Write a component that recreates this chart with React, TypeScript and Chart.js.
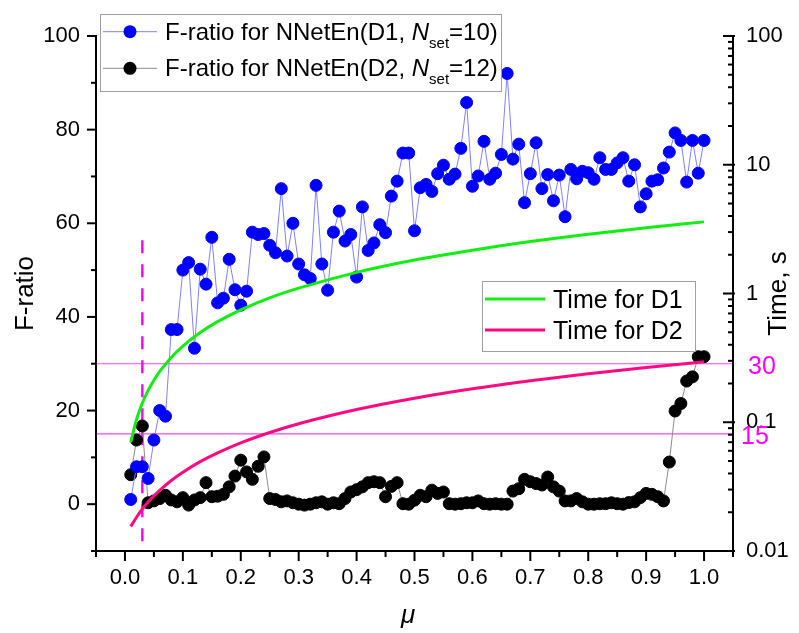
import React, { useEffect, useRef } from 'react';
import { Chart, registerables } from 'chart.js';

Chart.register(...registerables);

const FONT = '"Liberation Sans", Arial, Helvetica, sans-serif';

// μ grid of the two F-ratio series
const MU = [
  0.01, 0.02, 0.03, 0.04, 0.05, 0.06, 0.07, 0.08, 0.09, 0.10,
  0.11, 0.12, 0.13, 0.14, 0.15, 0.16, 0.17, 0.18, 0.19, 0.20,
  0.21, 0.22, 0.23, 0.24, 0.25, 0.26, 0.27, 0.28, 0.29, 0.30,
  0.31, 0.32, 0.33, 0.34, 0.35, 0.36, 0.37, 0.38, 0.39, 0.40,
  0.41, 0.42, 0.43, 0.44, 0.45, 0.46, 0.47, 0.48, 0.49, 0.50,
  0.51, 0.52, 0.53, 0.54, 0.55, 0.56, 0.57, 0.58, 0.59, 0.60,
  0.61, 0.62, 0.63, 0.64, 0.65, 0.66, 0.67, 0.68, 0.69, 0.70,
  0.71, 0.72, 0.73, 0.74, 0.75, 0.76, 0.77, 0.78, 0.79, 0.80,
  0.81, 0.82, 0.83, 0.84, 0.85, 0.86, 0.87, 0.88, 0.89, 0.90,
  0.91, 0.92, 0.93, 0.94, 0.95, 0.96, 0.97, 0.98, 0.99, 1.00,
];

// F-ratio for NNetEn(D1, Nset=10)
const F_D1 = [
  1, 8, 8, 5.5, 13.7, 20, 18.8, 37.3, 37.3, 50,
  51.6, 33.3, 50.2, 47, 57, 43, 44, 52.3, 45.8, 42.5,
  45.5, 58.1, 57.6, 57.8, 55.3, 53.7, 67.4, 53, 60, 51.3,
  49, 48.2, 68.1, 51.3, 45.7, 58.1, 62.6, 56.2, 57.6, 48.5,
  63.5, 54.2, 55.8, 59.7, 58, 65.8, 69, 75, 75, 58.4,
  67.6, 68.3, 66.8, 70.6, 72.4, 69.4, 70.5, 76, 85.8, 67.9,
  70.1, 77.5, 69.4, 70.7, 74.7, 92, 73.7, 76.9, 64.4, 70.6,
  77.2, 67.4, 70.4, 64.8, 70.3, 61.4, 71.5, 69.5, 71.1, 70.8,
  69.4, 74, 71.5, 71.5, 72.9, 74, 69, 72.5, 63.5, 66.3,
  69, 69.3, 71.8, 75.2, 79.3, 77.7, 68.8, 77.7, 70.7, 77.7,
];

// F-ratio for NNetEn(D2, Nset=12)
const F_D2 = [
  6.3, 13.7, 16.7, 0.3, 0.7, 1.2, 1.9, 0.9, 0.5, 1.4,
  -0.2, 0.9, 1.4, 4.6, 1.6, 1.7, 2.1, 3.7, 6, 9.4,
  6.9, 5.3, 8.1, 10.1, 1.2, 1, 0.5, 0.7, 0.3, 0,
  -0.2, 0, 0.3, 0.5, 0, 0.3, 0.1, 1.2, 2.6, 3.1,
  3.7, 4.6, 4.8, 4.6, 1.6, 3.8, 4.6, 0.1, 0, 0.85,
  1.9, 1.6, 3, 2.3, 2.6, 0.1, 0, 0.1, 0.3, 0.3,
  0.7, 0.1, 0, 0.1, 0, 0, 2.8, 3.3, 5.3, 4.8,
  4.4, 4.1, 5.8, 3.7, 2.8, 0.7, 0.7, 1.2, 0.5, 0,
  0, 0.1, 0.1, 0.3, 0.1, 0, 0.35, 0.5, 1.4, 2.3,
  2.1, 1.6, 0.7, 9, 19.9, 21.5, 26.3, 27.2, 31.5, 31.5,
];

// Time curves (right log axis, seconds)
const T_MU = [0.01, 0.02, 0.03, 0.04, 0.05, 0.06, 0.08, 0.10, 0.13, 0.16, 0.20, 0.25, 0.30, 0.40, 0.50, 0.60, 0.70, 0.80, 0.90, 1.00];
const T_D1 = [0.070, 0.105, 0.141, 0.177, 0.212, 0.248, 0.319, 0.391, 0.498, 0.605, 0.747, 0.926, 1.10, 1.46, 1.82, 2.17, 2.53, 2.89, 3.24, 3.60];
const T_D2 = [0.0155, 0.0183, 0.0212, 0.024, 0.0268, 0.0296, 0.0353, 0.0409, 0.0494, 0.0578, 0.0691, 0.0832, 0.0973, 0.1255, 0.1537, 0.1819, 0.2101, 0.2383, 0.2665, 0.295];

// Axis ticks
const X_MAJOR = [0, 0.1, 0.2, 0.3, 0.4, 0.5, 0.6, 0.7, 0.8, 0.9, 1.0];
const X_MINOR = [-0.05, 0.05, 0.15, 0.25, 0.35, 0.45, 0.55, 0.65, 0.75, 0.85, 0.95, 1.05];
const F_MAJOR = [0, 20, 40, 60, 80, 100];
const F_MINOR = [-10, 10, 30, 50, 70, 90];
const T_MAJOR = [0.01, 0.1, 1, 10, 100];
const T_MINOR = [
  0.02, 0.03, 0.04, 0.05, 0.06, 0.07, 0.08, 0.09,
  0.2, 0.3, 0.4, 0.5, 0.6, 0.7, 0.8, 0.9,
  2, 3, 4, 5, 6, 7, 8, 9,
  20, 30, 40, 50, 60, 70, 80, 90,
];

// Reference marks
const REF_F = [30, 15];
const REF_LABELS = ['30', '15'];
const DASH_MU = 0.03;
const DASH_F_TOP = 56.4;

// Legends
const LEGEND_F = [
  { pre: 'F-ratio for NNetEn(D1, ', post: '=10)' },
  { pre: 'F-ratio for NNetEn(D2, ', post: '=12)' },
];
const LEGEND_T = ['Time for D1', 'Time for D2'];

const BLUE = '#0000ff';
const BLUE_LINE = '#8080ff';
const BLACK = '#000000';
const GREY_LINE = '#8c8c8c';
const GREEN = '#11ee11';
const PINK = '#ff0a80';
const MAGENTA = '#ff00ff';

const toPts = (xs: number[], ys: number[]) => xs.map((x, i) => ({ x, y: ys[i] }));

const overlayPlugin = {
  id: 'overlay',
  beforeDatasetsDraw(chart: any) {
    const { ctx, chartArea } = chart;
    const x = chart.scales.x;
    const y = chart.scales.y;
    ctx.save();
    ctx.strokeStyle = '#ff40ff';
    ctx.lineWidth = 1.2;
    REF_F.forEach((v) => {
      const py = y.getPixelForValue(v);
      ctx.beginPath();
      ctx.moveTo(chartArea.left, py);
      ctx.lineTo(chartArea.right, py);
      ctx.stroke();
    });
    ctx.strokeStyle = MAGENTA;
    ctx.lineWidth = 2.4;
    ctx.setLineDash([13, 11]);
    const px = x.getPixelForValue(DASH_MU);
    ctx.beginPath();
    ctx.moveTo(px, y.getPixelForValue(DASH_F_TOP));
    ctx.lineTo(px, chartArea.bottom);
    ctx.stroke();
    ctx.restore();
  },
  afterDraw(chart: any) {
    const { ctx, chartArea } = chart;
    const x = chart.scales.x;
    const y = chart.scales.y;
    const y2 = chart.scales.y2;
    const { left, right, top, bottom } = chartArea;
    ctx.save();
    ctx.strokeStyle = '#000';
    ctx.lineWidth = 2;
    ctx.lineCap = 'butt';
    const line = (x1: number, y1: number, x2: number, y2_: number) => {
      ctx.beginPath();
      ctx.moveTo(x1, y1);
      ctx.lineTo(x2, y2_);
      ctx.stroke();
    };
    // axis lines
    line(left, top - 1, left, bottom + 1);
    line(left - 1, bottom, right + 1, bottom);
    line(right, top - 1, right, bottom + 1);
    // left ticks (outward)
    F_MAJOR.forEach((v) => { const p = y.getPixelForValue(v); line(left - 9, p, left, p); });
    F_MINOR.forEach((v) => { const p = y.getPixelForValue(v); line(left - 5, p, left, p); });
    // bottom ticks (outward)
    X_MAJOR.forEach((v) => { const p = x.getPixelForValue(v); line(p, bottom, p, bottom + 10); });
    X_MINOR.forEach((v) => { const p = x.getPixelForValue(v); line(p, bottom, p, bottom + 6); });
    // right ticks (inward)
    T_MAJOR.forEach((v) => { const p = y2.getPixelForValue(v); line(right - 10, p, right + 2, p); });
    T_MINOR.forEach((v) => { const p = y2.getPixelForValue(v); line(right - 5, p, right, p); });

    // axis titles
    ctx.fillStyle = '#000';
    ctx.textAlign = 'center';
    ctx.textBaseline = 'middle';
    ctx.font = `26px ${FONT}`;
    ctx.save();
    ctx.translate(26, (top + bottom) / 2);
    ctx.rotate(-Math.PI / 2);
    ctx.fillText('F-ratio', 0, 0);
    ctx.restore();
    ctx.save();
    ctx.translate(779, (top + bottom) / 2);
    ctx.rotate(-Math.PI / 2);
    ctx.fillText('Time, s', 0, 0);
    ctx.restore();
    ctx.font = `italic 26px ${FONT}`;
    ctx.fillText('\u03bc', 408, 616);

    // magenta reference labels
    ctx.fillStyle = MAGENTA;
    ctx.textAlign = 'left';
    ctx.font = `25px ${FONT}`;
    ctx.fillText(REF_LABELS[0], 748, y.getPixelForValue(REF_F[0]) + 3);
    ctx.fillText(REF_LABELS[1], 741, y.getPixelForValue(REF_F[1]) + 3);

    // legend 1
    ctx.fillStyle = '#fff';
    ctx.fillRect(101, 15, 401, 76);
    ctx.strokeStyle = '#a0a0a0';
    ctx.lineWidth = 1;
    ctx.strokeRect(100.5, 14.5, 401, 77);
    const rows1 = [31.7, 68.3];
    const markerCols = [BLUE, BLACK];
    const lineCols = [BLUE_LINE, GREY_LINE];
    rows1.forEach((ry, i) => {
      ctx.strokeStyle = lineCols[i];
      ctx.lineWidth = 1;
      line(103, ry, 157, ry);
      ctx.fillStyle = markerCols[i];
      ctx.beginPath();
      ctx.arc(130, ry, 6.5, 0, Math.PI * 2);
      ctx.fill();
      ctx.fillStyle = '#000';
      ctx.textAlign = 'left';
      ctx.textBaseline = 'alphabetic';
      const base = ry + 8;
      let tx = 165;
      ctx.font = `24px ${FONT}`;
      ctx.fillText(LEGEND_F[i].pre, tx, base);
      tx += ctx.measureText(LEGEND_F[i].pre).width;
      ctx.font = `italic 24px ${FONT}`;
      ctx.fillText('N', tx, base);
      tx += ctx.measureText('N').width;
      ctx.font = `15px ${FONT}`;
      ctx.fillText('set', tx, base + 8);
      tx += ctx.measureText('set').width;
      ctx.font = `24px ${FONT}`;
      ctx.fillText(LEGEND_F[i].post, tx, base);
    });

    // legend 2
    ctx.fillStyle = '#fff';
    ctx.fillRect(483, 282, 212, 69);
    ctx.strokeStyle = '#a0a0a0';
    ctx.lineWidth = 1;
    ctx.strokeRect(482.5, 281.5, 213, 70);
    const rows2 = [299, 330];
    const cols2 = [GREEN, PINK];
    rows2.forEach((ry, i) => {
      ctx.strokeStyle = cols2[i];
      ctx.lineWidth = 3;
      line(485, ry, 545, ry);
      ctx.fillStyle = '#000';
      ctx.textAlign = 'left';
      ctx.textBaseline = 'alphabetic';
      ctx.font = `25px ${FONT}`;
      ctx.fillText(LEGEND_T[i], 553, ry + 9);
    });
    ctx.restore();
  },
};

export default function App() {
  const canvasRef = useRef<HTMLCanvasElement | null>(null);

  useEffect(() => {
    const canvas = canvasRef.current;
    if (!canvas) return;
    const tickFont = { family: FONT, size: 22 };
    const chart = new Chart(canvas, {
      type: 'line',
      data: {
        datasets: [
          {
            label: 'Time for D1',
            data: toPts(T_MU, T_D1),
            yAxisID: 'y2',
            borderColor: GREEN,
            borderWidth: 3,
            pointRadius: 0,
            cubicInterpolationMode: 'monotone',
            order: 0,
          },
          {
            label: 'Time for D2',
            data: toPts(T_MU, T_D2),
            yAxisID: 'y2',
            borderColor: PINK,
            borderWidth: 3,
            pointRadius: 0,
            cubicInterpolationMode: 'monotone',
            order: 0,
          },
          {
            label: 'F-ratio for NNetEn(D1, Nset=10)',
            data: toPts(MU, F_D1),
            yAxisID: 'y',
            borderColor: BLUE_LINE,
            borderWidth: 1,
            pointRadius: 6,
            pointBorderWidth: 1,
            pointBackgroundColor: BLUE,
            pointBorderColor: BLUE,
            order: 1,
          },
          {
            label: 'F-ratio for NNetEn(D2, Nset=12)',
            data: toPts(MU, F_D2),
            yAxisID: 'y',
            borderColor: GREY_LINE,
            borderWidth: 1,
            pointRadius: 6,
            pointBorderWidth: 1,
            pointBackgroundColor: BLACK,
            pointBorderColor: BLACK,
            order: 2,
          },
        ],
      } as any,
      options: {
        animation: false,
        responsive: false,
        devicePixelRatio: 1,
        layout: { padding: { top: 36, left: 0, right: 0, bottom: 0 } },
        plugins: { legend: { display: false }, tooltip: { enabled: false } },
        scales: {
          x: {
            type: 'linear',
            position: 'bottom',
            min: -0.05,
            max: 1.05,
            grid: { display: false, drawTicks: false },
            border: { display: false },
            afterBuildTicks: (s: any) => { s.ticks = X_MAJOR.map((v) => ({ value: v })); },
            afterFit: (s: any) => { s.height = 82; },
            ticks: {
              font: tickFont,
              color: '#000',
              padding: 14,
              maxRotation: 0,
              autoSkip: false,
              callback: (v: any) => Number(v).toFixed(1),
            },
          },
          y: {
            type: 'linear',
            position: 'left',
            min: -10,
            max: 100,
            grid: { display: false, drawTicks: false },
            border: { display: false },
            afterBuildTicks: (s: any) => { s.ticks = F_MAJOR.map((v) => ({ value: v })); },
            afterFit: (s: any) => { s.width = 96; },
            ticks: {
              font: tickFont,
              color: '#000',
              padding: 16,
              callback: (v: any) => String(v),
            },
          },
          y2: {
            type: 'logarithmic',
            position: 'right',
            min: 0.01,
            max: 100,
            grid: { display: false, drawTicks: false },
            border: { display: false },
            afterBuildTicks: (s: any) => { s.ticks = T_MAJOR.map((v) => ({ value: v })); },
            afterFit: (s: any) => { s.width = 66; },
            ticks: {
              font: tickFont,
              color: '#000',
              padding: 13,
              autoSkip: false,
              callback: (v: any) => String(v),
            },
          },
        },
      } as any,
      plugins: [overlayPlugin],
    });
    return () => chart.destroy();
  }, []);

  return (
    <div style={{ position: 'absolute', left: 0, top: 0, width: 799, height: 633, background: '#fff' }}>
      <canvas ref={canvasRef} width={799} height={633} style={{ display: 'block' }} />
    </div>
  );
}
